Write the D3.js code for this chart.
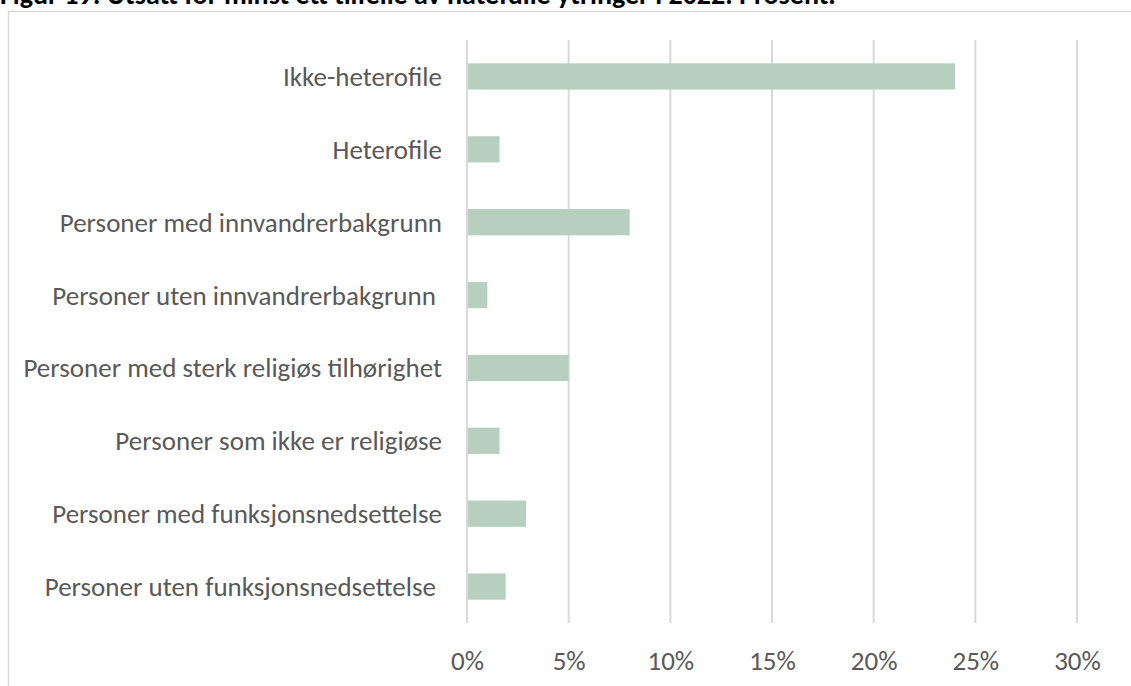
<!DOCTYPE html>
<html>
<head>
<meta charset="utf-8">
<script src="https://cdn.jsdelivr.net/npm/d3@7"></script>
<style>
  body { margin: 0; background: #fff; }
  text { white-space: pre; }
</style>
</head>
<body>
<div id="chart"></div>
<script>
// data
let categories = [
  "Ikke-heterofile",
  "Heterofile",
  "Personer med innvandrerbakgrunn",
  "Personer uten innvandrerbakgrunn ",
  "Personer med sterk religiøs tilhørighet",
  "Personer som ikke er religiøse",
  "Personer med funksjonsnedsettelse",
  "Personer uten funksjonsnedsettelse "
];
let values = [24.0, 1.6, 8.0, 1.0, 5.0, 1.6, 2.9, 1.9];
let tick_values = [0, 5, 10, 15, 20, 25, 30];
let title_text = "Figur 19: Utsatt for minst ett tilfelle av hatefulle ytringer i 2022. Prosent.";

let width = 1131;
let height = 686;
let plot = { left: 467, right: 1077, top: 40, bottom: 623 };

let svg = d3.select("#chart").append("svg")
  .attr("width", width)
  .attr("height", height);

let font = "Carlito, 'Open Sans', 'Liberation Sans', sans-serif";

// chart border (only top and left visible)
svg.append("line")
  .attr("x1", 8).attr("x2", width).attr("y1", 11.5).attr("y2", 11.5)
  .attr("stroke", "#d9d9d9").attr("stroke-width", 1.5);
svg.append("line")
  .attr("x1", 8.5).attr("x2", 8.5).attr("y1", 11).attr("y2", height)
  .attr("stroke", "#d9d9d9").attr("stroke-width", 1.5);

// title, cut off at the top edge like in the source
svg.append("text")
  .attr("x", 0).attr("y", 4)
  .attr("font-family", font)
  .attr("font-weight", "bold")
  .attr("font-size", "28px")
  .attr("fill", "#000")
  .text(title_text);

let x = d3.scaleLinear().domain([0, 30]).range([plot.left, plot.right]);
let y = d3.scaleBand().domain(categories).range([plot.top, plot.bottom]).paddingInner(0.64).paddingOuter(0.32);

// gridlines
svg.append("g")
  .selectAll("line")
  .data(tick_values)
  .join("line")
    .attr("x1", d => x(d)).attr("x2", d => x(d))
    .attr("y1", plot.top).attr("y2", plot.bottom)
    .attr("stroke", "#d9d9d9").attr("stroke-width", 2);

// bars
svg.append("g")
  .selectAll("rect")
  .data(values)
  .join("rect")
    .attr("x", x(0) + 1)
    .attr("y", (d, i) => y(categories[i]))
    .attr("width", d => x(d) - x(0) - 1)
    .attr("height", y.bandwidth())
    .attr("fill", "#b6cfbe");

// category labels
svg.append("g")
  .selectAll("text")
  .data(categories)
  .join("text")
    .attr("x", 442)
    .attr("y", d => y(d) + y.bandwidth() / 2)
    .attr("dy", "0.35em")
    .attr("text-anchor", "end")
    .attr("font-family", font)
    .attr("font-size", "27px")
    .attr("fill", "#595959")
    .text(d => d);

// x tick labels
let x_axis = d3.axisBottom(x).tickValues(tick_values).tickSize(0).tickFormat(d => d + "%");
let ax = svg.append("g").attr("transform", "translate(0," + 648 + ")").call(x_axis);
ax.select(".domain").remove();
ax.selectAll("text")
  .attr("font-family", font)
  .attr("font-size", "27px")
  .attr("fill", "#595959");
</script>
</body>
</html>
